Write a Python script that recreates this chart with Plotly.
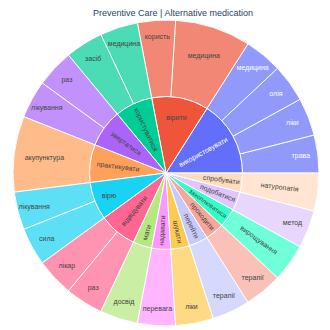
import plotly.graph_objects as go

title = "Preventive Care | Alternative medication"

verbs = ["використовувати", "вірити", "користуватися", "звертатися", "практикувати",
         "вірю", "відвідувати", "мати", "надавати", "шукати", "перейти", "проходити",
         "захоплюватися", "подобатися", "спробувати"]

children = {
    "використовувати": [("трава", 1), ("ліки", 1), ("олія", 1), ("медицина", 1)],
    "вірити": [("медицина", 2), ("користь", 1)],
    "користуватися": [("медицина", 1), ("засіб", 1)],
    "звертатися": [("раз", 1), ("лікування", 1)],
    "практикувати": [("акупунктура", 2)],
    "вірю": [("лікування", 1), ("сила", 1)],
    "відвідувати": [("лікар", 1), ("раз", 1)],
    "мати": [("досвід", 1)],
    "надавати": [("перевага", 1)],
    "шукати": [("ліки", 1)],
    "перейти": [("терапії", 1)],
    "проходити": [("терапії", 1)],
    "захоплюватися": [("вирощування", 1)],
    "подобатися": [("метод", 1)],
    "спробувати": [("натуропатія", 1)],
}

ids, labels, parents, values, tcolors = [], [], [], [], []
for v in verbs:
    col = "white" if v == "використовувати" else "#444"
    ids.append(v)
    labels.append(v)
    parents.append("")
    values.append(0)
    tcolors.append(col)
    for noun, val in children[v]:
        ids.append(v + "/" + noun)
        labels.append(noun)
        parents.append(v)
        values.append(val)
        tcolors.append(col)

fig = go.Figure(go.Sunburst(
    ids=ids, labels=labels, parents=parents, values=values,
    branchvalues="remainder",
    marker=dict(line=dict(color="white", width=1)),
    insidetextfont=dict(size=7, color=tcolors, family="Liberation Sans"),
))
fig.update_layout(
    width=330, height=330,
    margin=dict(l=5, r=19, t=12, b=12),
    title=dict(text=title, x=0.5, xanchor="center", y=0.985, yanchor="middle",
               yref="container", font=dict(size=9, color="#2a3f5f", family="Liberation Sans")),
    paper_bgcolor="white",
)
fig.write_html("out.html")
